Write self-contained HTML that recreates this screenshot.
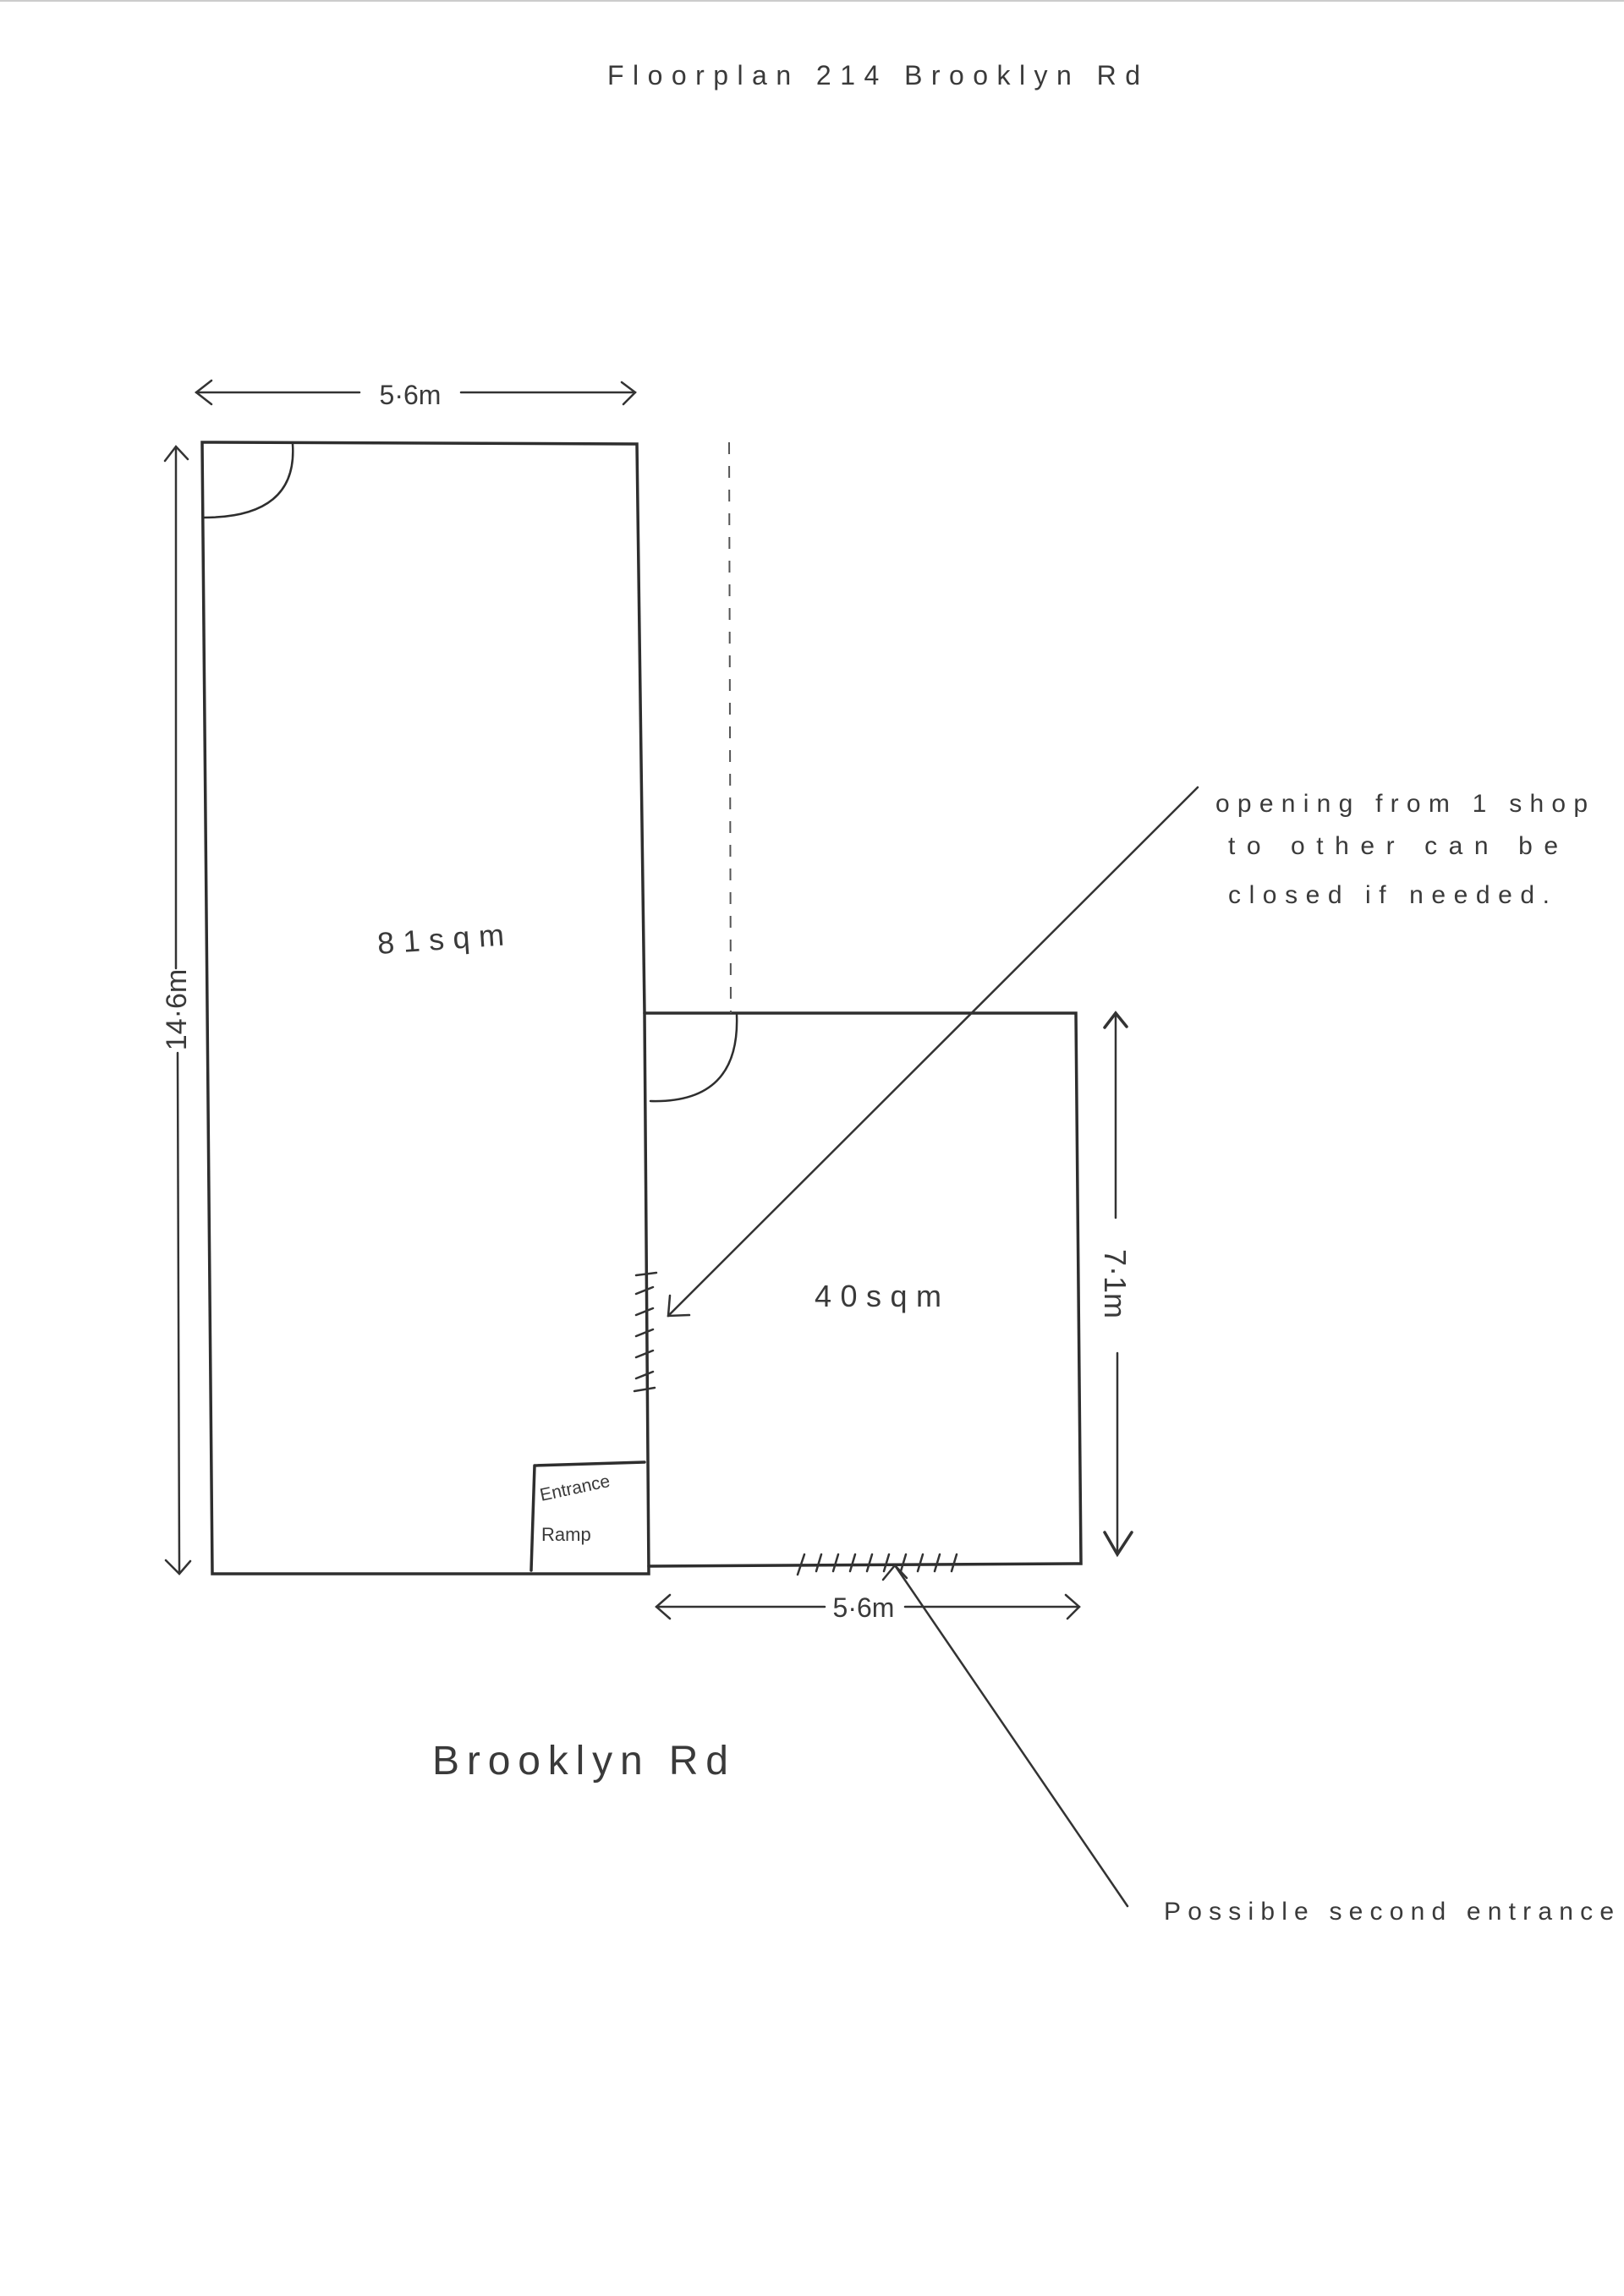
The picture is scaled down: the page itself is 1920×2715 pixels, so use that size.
<!DOCTYPE html>
<html><head><meta charset="utf-8"><style>
html,body{margin:0;padding:0;background:#fff;}
svg{display:block;}
text{font-family:"Liberation Sans",sans-serif;fill:#3a3a3a;}
</style></head><body>
<svg width="1920" height="2715" viewBox="0 0 1920 2715" xmlns="http://www.w3.org/2000/svg">
<rect width="1920" height="2715" fill="#fff"/>
<line x1="0" y1="1" x2="1920" y2="1" stroke="#ccc" stroke-width="2"/>
<text x="718" y="100" font-size="32" textLength="630">Floorplan   214   Brooklyn   Rd</text>

<g stroke="#2e2e2e" stroke-width="3.5" fill="none" stroke-linecap="round">
<path d="M239 523 L753 525 L762 1198 L767 1861 L251 1861 Z"/>
<path d="M762 1198 L1272 1198 L1278 1849 L767 1852"/>
<path d="M632 1733 L762 1729 M632 1733 L628 1857"/>
<path d="M346 525 Q352 612 241 612" stroke-width="2.5"/>
<path d="M871 1200 Q875 1305 769 1302" stroke-width="2.5"/>
</g>
<line x1="862" y1="523" x2="864" y2="1198" stroke="#555" stroke-width="2" stroke-dasharray="14 14"/>

<g stroke="#333" stroke-width="2.5" fill="none" stroke-linecap="round">
<line x1="232" y1="464" x2="425" y2="464"/><line x1="545" y1="464" x2="751" y2="464"/>
<path d="M250 450 L232 464 L250 478 M735 452 L751 464 L737 478"/>
<line x1="208" y1="530" x2="208" y2="1145"/><line x1="210" y1="1245" x2="212" y2="1859"/>
<path d="M195 545 L208 528 L222 543 M196 1845 L212 1861 L225 1846"/>
<line x1="1319" y1="1200" x2="1319" y2="1440"/><line x1="1321" y1="1600" x2="1321" y2="1838"/>
<path d="M1306 1215 L1319 1198 L1332 1214 M1306 1812 L1321 1838 L1338 1812" stroke-width="3.5"/>
<line x1="776" y1="1900" x2="975" y2="1900"/><line x1="1070" y1="1900" x2="1276" y2="1900"/>
<path d="M792 1886 L776 1900 L792 1914 M1260 1886 L1276 1900 L1262 1914"/>
<path d="M752 1508 L776 1505 M750 1645 L774 1641 M752 1530 L772 1522 M752 1555 L772 1547 M752 1580 L772 1572 M752 1605 L772 1597 M752 1630 L772 1622"/>
<path d="M943 1862 L951 1838 M965 1858 L971 1838 M985 1858 L991 1838 M1005 1858 L1011 1838 M1025 1858 L1031 1838 M1045 1858 L1051 1838 M1065 1858 L1071 1838 M1085 1858 L1091 1838 M1105 1858 L1111 1838 M1125 1858 L1131 1838"/>
<line x1="1416" y1="931" x2="790" y2="1556"/>
<path d="M792 1532 L790 1556 L815 1555"/>
<line x1="1333" y1="2254" x2="1058" y2="1851"/>
<path d="M1044 1868 L1058 1851 L1072 1866"/>
</g>

<text x="485" y="478" font-size="32" text-anchor="middle">5·6m</text>
<text x="1021" y="1912" font-size="32" text-anchor="middle">5·6m</text>
<text font-size="34" transform="translate(220 1194) rotate(-90)" text-anchor="middle">14·6m</text>
<text font-size="36" transform="translate(1306 1518) rotate(90)" text-anchor="middle">7·1m</text>
<text x="447" y="1128" font-size="36" textLength="150" transform="rotate(-4 447 1128)">81sqm</text>
<text x="963" y="1545" font-size="36" textLength="150">40sqm</text>
<text x="640" y="1775" font-size="21" transform="rotate(-12 640 1775)">Entrance</text>
<text x="640" y="1822" font-size="22">Ramp</text>
<text x="1437" y="960" font-size="30" textLength="440">opening  from   1 shop</text>
<text x="1452" y="1010" font-size="30" textLength="390">to  other  can  be</text>
<text x="1452" y="1068" font-size="30" textLength="380">closed  if  needed.</text>
<text x="511" y="2098" font-size="48" textLength="350">Brooklyn   Rd</text>
<text x="1376" y="2270" font-size="30" textLength="532">Possible   second   entrance</text>
</svg>
</body></html>
